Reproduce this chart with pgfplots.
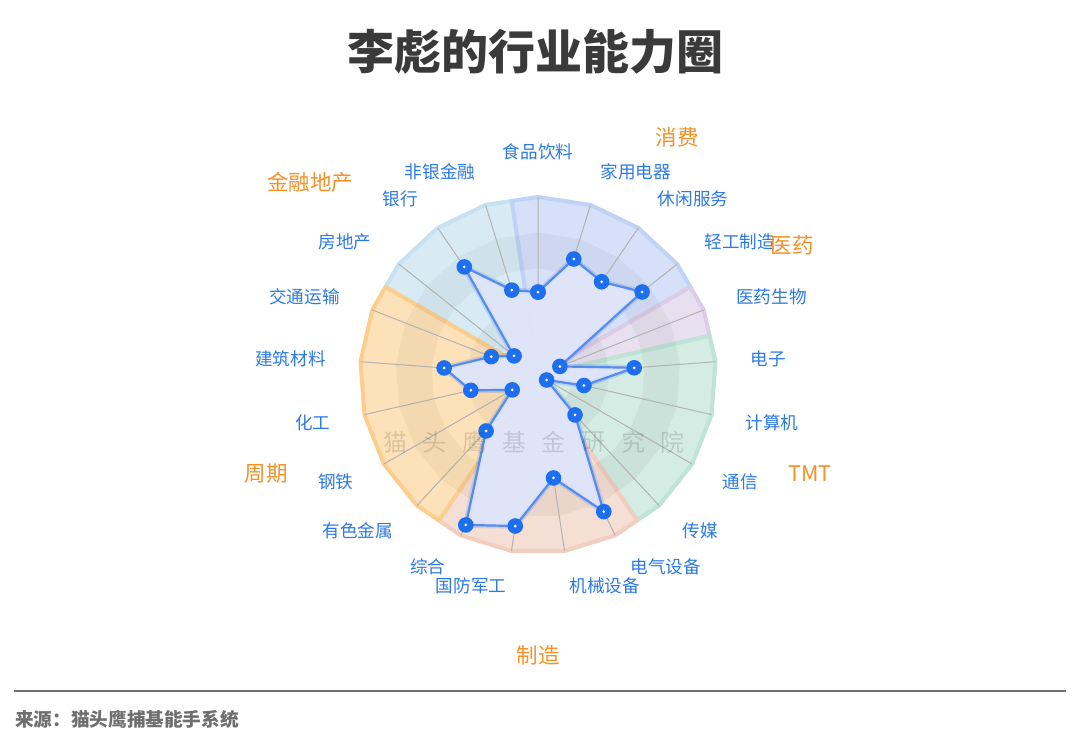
\documentclass[border=0pt]{standalone}
\usepackage{pgfplots}
\pgfplotsset{compat=1.18}
\usepgfplotslibrary{polar}
\usepackage{fontspec}
\setmainfont{Noto Sans CJK SC}
\definecolor{labelblue}{RGB}{45,122,230}
\definecolor{grouporange}{RGB}{246,145,38}
\definecolor{titlegray}{RGB}{58,58,58}
\definecolor{srcgray}{RGB}{110,110,110}
\definecolor{markblue}{RGB}{30,110,240}
\definecolor{lineblue}{RGB}{85,140,238}
\definecolor{polyfill}{RGB}{224,229,250}
\definecolor{spokegray}{RGB}{178,178,178}
\definecolor{cFin}{RGB}{216,235,244}\definecolor{bFin}{RGB}{198,226,240}
\definecolor{cCon}{RGB}{214,224,249}\definecolor{bCon}{RGB}{192,210,246}
\definecolor{cMed}{RGB}{232,224,240}\definecolor{bMed}{RGB}{220,204,232}
\definecolor{cTmt}{RGB}{212,236,228}\definecolor{bTmt}{RGB}{190,228,214}
\definecolor{cMfg}{RGB}{245,222,212}\definecolor{bMfg}{RGB}{241,206,190}
\definecolor{cCyc}{RGB}{253,225,184}\definecolor{bCyc}{RGB}{252,206,142}
\pgfdeclareplotmark{echdot}{%
  \pgfsetfillopacity{1}%
  \pgfpathcircle{\pgfpointorigin}{\pgfplotmarksize}%
  \pgfsetfillcolor{markblue}\pgfusepath{fill}%
  \pgfpathcircle{\pgfpointorigin}{0.75pt}%
  \pgfsetfillcolor{white}\pgfusepath{fill}}
\newcommand\LL[1]{\raisebox{-0.38em}[0pt][0pt]{\makebox[0pt][l]{#1}}}
\newcommand\RR[1]{\raisebox{-0.38em}[0pt][0pt]{\makebox[0pt][r]{#1}}}
\newcommand\TT[1]{\raisebox{0.18em}[0pt][0pt]{\makebox[0pt][c]{#1}}}
\begin{document}
\begin{tikzpicture}
\begin{scope}[x=0.5pt,y=-0.5pt]
\path[use as bounding box, fill=white] (0,0) rectangle (1080,743);
\node[font=\fontsize{23.5}{28}\selectfont\bfseries, text=titlegray] at (535,52) {李彪的行业能力圈};
\end{scope}
\begin{polaraxis}[
  at={(269pt,-187.5pt)}, anchor=center,
  width=213pt, height=213pt, scale only axis,
  xmin=0, xmax=360, ymin=0, ymax=119.663,
  clip=false,
  axis line style={draw=none},
  ytick=\empty,
  xtick={90,72.857,55.714,38.571,21.429,4.286,347.143,330,312.857,295.714,278.571,261.429,244.286,227.143,210,192.857,175.714,158.571,141.429,124.286,107.143},
  xticklabels={\TT{食品饮料},\LL{家用电器},\LL{休闲服务},\LL{轻工制造},\LL{医药生物},\LL{电子},\LL{计算机},\LL{通信},\LL{传媒},\LL{电气设备},\LL{机械设备},\RR{国防军工},\RR{综合},\RR{有色金属},\RR{钢铁},\RR{化工},\RR{建筑材料},\RR{交通运输},\RR{房地产},\RR{银行},\RR{非银金融}},
  xtick style={draw=none},
  major tick length=0pt,
  xticklabel style={anchor=center, inner sep=0pt, font=\fontsize{8.8}{10}\selectfont, text=labelblue},
  xmajorgrids=false, ymajorgrids=false,
]
% sector backgrounds
\addplot[fill=cFin, draw=bFin, line width=2pt, line join=round] coordinates {(0,0) (150,98.883) (141.429,100) (124.286,100) (107.143,100) (98.571,98.883) (0,0)};
\addplot[fill=cCon, draw=bCon, line width=2pt, line join=round] coordinates {(0,0) (98.571,98.883) (90,100) (72.857,100) (55.714,100) (38.571,100) (30,98.883) (0,0)};
\addplot[fill=cMed, draw=bMed, line width=2pt, line join=round] coordinates {(0,0) (30,98.883) (21.429,100) (12.857,98.883) (0,0)};
\addplot[fill=cTmt, draw=bTmt, line width=2pt, line join=round] coordinates {(0,0) (12.857,98.883) (4.286,100) (347.143,100) (330,100) (312.857,100) (304.286,98.883) (0,0)};
\addplot[fill=cMfg, draw=bMfg, line width=2pt, line join=round] coordinates {(0,0) (304.286,98.883) (295.714,100) (278.571,100) (261.429,100) (244.286,100) (235.714,98.883) (0,0)};
\addplot[fill=cCyc, draw=bCyc, line width=2pt, line join=round] coordinates {(0,0) (235.714,98.883) (227.143,100) (210,100) (192.857,100) (175.714,100) (158.571,100) (150,98.883) (0,0)};
% split area bands (outer clockwise, inner counter-clockwise)
\addplot[fill=black, fill opacity=0.04, draw=none] coordinates {(90,40) (72.857,40) (55.714,40) (38.571,40) (21.429,40) (4.286,40) (347.143,40) (330,40) (312.857,40) (295.714,40) (278.571,40) (261.429,40) (244.286,40) (227.143,40) (210,40) (192.857,40) (175.714,40) (158.571,40) (141.429,40) (124.286,40) (107.143,40) (90,40) (90,20) (107.143,20) (124.286,20) (141.429,20) (158.571,20) (175.714,20) (192.857,20) (210,20) (227.143,20) (244.286,20) (261.429,20) (278.571,20) (295.714,20) (312.857,20) (330,20) (347.143,20) (364.286,20) (381.429,20) (398.571,20) (415.714,20) (432.857,20) (450,20)};
\addplot[fill=black, fill opacity=0.04, draw=none] coordinates {(90,80) (72.857,80) (55.714,80) (38.571,80) (21.429,80) (4.286,80) (347.143,80) (330,80) (312.857,80) (295.714,80) (278.571,80) (261.429,80) (244.286,80) (227.143,80) (210,80) (192.857,80) (175.714,80) (158.571,80) (141.429,80) (124.286,80) (107.143,80) (90,80) (90,60) (107.143,60) (124.286,60) (141.429,60) (158.571,60) (175.714,60) (192.857,60) (210,60) (227.143,60) (244.286,60) (261.429,60) (278.571,60) (295.714,60) (312.857,60) (330,60) (347.143,60) (364.286,60) (381.429,60) (398.571,60) (415.714,60) (432.857,60) (450,60)};
% spokes
\addplot[draw=spokegray, line width=0.5pt] coordinates {(0,0) (90,100) (0,0) (72.857,100) (0,0) (55.714,100) (0,0) (38.571,100) (0,0) (21.429,100) (0,0) (4.286,100) (0,0) (347.143,100) (0,0) (330,100) (0,0) (312.857,100) (0,0) (295.714,100) (0,0) (278.571,100) (0,0) (261.429,100) (0,0) (244.286,100) (0,0) (227.143,100) (0,0) (210,100) (0,0) (192.857,100) (0,0) (175.714,100) (0,0) (158.571,100) (0,0) (141.429,100) (0,0) (124.286,100) (0,0) (107.143,100) (0,0)};
% data
\addplot[fill=polyfill, fill opacity=0.82, draw=lineblue, line width=1.1pt, line join=round,
  preaction={draw=lineblue, draw opacity=0.25, line width=2.8pt},
  mark=echdot, mark size=3.9pt, mark options={opacity=1, fill opacity=1, draw opacity=1}]
  coordinates {(90,46.6) (72.857,68.2) (55.714,63.4) (38.571,74.8) (21.429,13.2) (4.286,54.2) (347.143,26.5) (330,5.6) (312.857,30.6) (295.714,85.2) (278.571,58.5) (261.429,85.8) (244.286,93.5) (227.143,42.9) (210,16.7) (192.857,38.7) (175.714,52.9) (158.571,28.2) (141.429,17.2) (124.286,73.5) (107.143,49.9) (90,46.6)};
\end{polaraxis}
\begin{scope}[x=0.5pt,y=-0.5pt]
% watermark text
\foreach \c [count=\i] in {猫,头,鹰,基,金,研,究,院} {
  \node[font=\fontsize{12}{14}\selectfont, text=black, opacity=0.13] at ({395+39.7*(\i-1)},442) {\c};
}
% group labels
\begin{scope}[every node/.style={font=\fontsize{10.75}{12}\selectfont, text=grouporange}]
\node at (677,137) {消费};
\node at (792,245) {医药};
\node at (810,474) {TMT};
\node at (538,655) {制造};
\node at (266,474) {周期};
\node at (310,182) {金融地产};
\end{scope}
% source
\draw[line width=0.6pt, draw=srcgray] (14,691) -- (1066,691);
\node[anchor=west, inner sep=0pt, font=\fontsize{9.3}{11}\selectfont\bfseries, text=srcgray] at (15,719) {来源：猫头鹰捕基能手系统};
\end{scope}
\end{tikzpicture}
\end{document}
